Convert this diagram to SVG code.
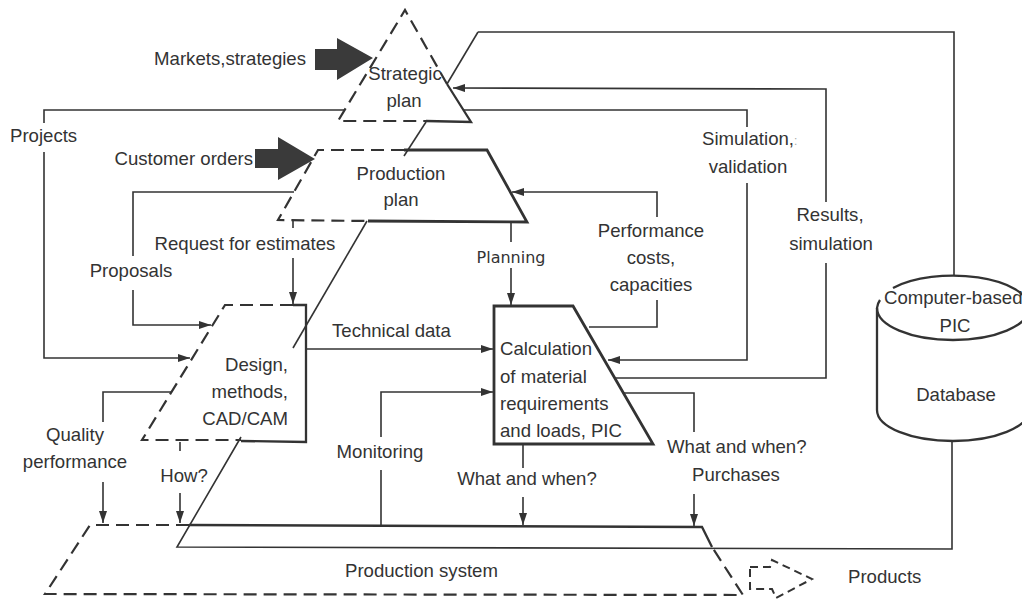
<svg xmlns="http://www.w3.org/2000/svg" width="1022" height="599" viewBox="0 0 1022 599">
  <defs>
    <marker id="arrow" markerWidth="13" markerHeight="8" refX="12" refY="4" orient="auto" markerUnits="userSpaceOnUse">
      <path d="M0,0 L12,4 L0,8 Z" fill="#333"/>
    </marker>
    <style>
      .lbl { font-family: "Liberation Sans", Arial, sans-serif; font-size: 18.6px; fill: #333; }
      .mid { text-anchor: middle; }
      .end { text-anchor: end; }
      .alt { font-family: "DejaVu Sans", Verdana, sans-serif; font-size: 16px; fill: #333; text-anchor: middle; }
      .wire { fill: none; stroke: #333; stroke-width: 1.6; }
      .edge { fill: none; stroke: #333; stroke-width: 2.3; stroke-linejoin: miter; }
      .dash { fill: none; stroke: #333; stroke-width: 2.2; stroke-dasharray: 13 7; }
      .bold { fill: none; stroke: #333; stroke-width: 2.8; }
      .fat { fill: #3a3a3a; }
    </style>
  </defs>
  <rect width="1022" height="599" fill="#fff"/>

  <!-- connectors -->
  <g id="connectors">
    <!-- planning spine running down through the levels, then to the database -->
    <path class="wire" d="M478,32 L954,32 L954,276"/>
    <path class="wire" d="M478,32 L447,84"/>
    <path class="wire" d="M426,122 L404,156"/>
    <path class="wire" d="M367,221 L293,348"/>
    <path class="wire" d="M241,437 L177,547 L952,549 L952,441"/>

    <!-- projects / simulation, validation loop -->
    <path class="wire" d="M747,183 L747,360 L608,360" marker-end="url(#arrow)"/>
    <path class="wire" d="M747,127 L747,110 L464,110"/>
    <path class="wire" d="M345,110 L44,110 L44,123"/>
    <path class="wire" d="M44,152 L44,358 L190,358" marker-end="url(#arrow)"/>

    <!-- results, simulation -->
    <path class="wire" d="M615,378 L826,378 L826,263"/>
    <path class="wire" d="M826,202 L826,89 L453,88" marker-end="url(#arrow)"/>

    <!-- performance, costs, capacities -->
    <path class="wire" d="M589,327 L657,327 L657,300"/>
    <path class="wire" d="M657,217 L657,192 L512,192" marker-end="url(#arrow)"/>

    <!-- planning -->
    <path class="wire" d="M511,222 L511,242"/>
    <path class="wire" d="M511,268 L511,305" marker-end="url(#arrow)"/>

    <!-- request for estimates -->
    <path class="wire" d="M293,221 L293,228"/>
    <path class="wire" d="M293,258 L293,304" marker-end="url(#arrow)"/>

    <!-- proposals -->
    <path class="wire" d="M294,192 L133,192 L133,256"/>
    <path class="wire" d="M133,290 L133,325 L211,325" marker-end="url(#arrow)"/>

    <!-- technical data -->
    <path class="wire" d="M306,349 L493,349" marker-end="url(#arrow)"/>

    <!-- monitoring -->
    <path class="wire" d="M381,525 L381,470"/>
    <path class="wire" d="M381,437 L381,392 L493,392" marker-end="url(#arrow)"/>

    <!-- quality performance -->
    <path class="wire" d="M171,392 L103,392 L103,422"/>
    <path class="wire" d="M103,482 L103,523" marker-end="url(#arrow)"/>

    <!-- how? -->
    <path class="wire" d="M180,442 L180,451"/>
    <path class="wire" d="M180,493 L180,523" marker-end="url(#arrow)"/>

    <!-- what and when? -->
    <path class="wire" d="M523,444 L523,468"/>
    <path class="wire" d="M523,497 L523,525" marker-end="url(#arrow)"/>

    <!-- what and when? purchases -->
    <path class="wire" d="M623,393 L694,393 L694,432"/>
    <path class="wire" d="M694,494 L694,526" marker-end="url(#arrow)"/>

    <!-- connector labels -->
    <text class="lbl" x="10" y="142">Projects</text>
    <text class="lbl" x="702" y="145">Simulation,<tspan fill="#aaa" font-size="12">:</tspan></text>
    <text class="lbl mid" x="748" y="173">validation</text>
    <text class="lbl mid" x="830" y="221">Results,</text>
    <text class="lbl mid" x="831" y="250">simulation</text>
    <text class="lbl mid" x="651" y="237">Performance</text>
    <text class="lbl mid" x="651" y="264">costs,</text>
    <text class="lbl mid" x="651" y="291">capacities</text>
    <text class="alt" x="511" y="263">Planning</text>
    <text class="lbl mid" x="245" y="250">Request for estimates</text>
    <text class="lbl mid" x="131" y="277">Proposals</text>
    <text class="lbl" x="332" y="337">Technical data</text>
    <text class="lbl mid" x="380" y="458">Monitoring</text>
    <text class="lbl mid" x="75" y="441">Quality</text>
    <text class="lbl mid" x="75" y="468">performance</text>
    <text class="lbl mid" x="184" y="482">How?</text>
    <text class="lbl mid" x="527" y="485">What and when?</text>
    <text class="lbl" x="667" y="453">What and when?</text>
    <text class="lbl" x="692" y="481">Purchases</text>
  </g>

  <!-- external input: markets, strategies -->
  <g id="markets-input">
    <path class="fat" d="M315,49 L337,49 L337,38 L373,58 L337,80 L337,70 L315,70 Z"/>
    <text class="lbl end" x="306" y="65">Markets,strategies</text>
  </g>

  <!-- external input: customer orders -->
  <g id="customer-orders">
    <path class="fat" d="M255,149 L278,149 L278,137 L315,159 L278,180 L278,168 L255,168 Z"/>
    <text class="lbl end" x="253" y="165">Customer orders</text>
  </g>

  <!-- strategic plan -->
  <g id="strategic-plan">
    <path class="dash" d="M447,84 L405,10 L338,121 L426,121"/>
    <path class="edge" d="M426,121 L471,122 L447,84"/>
    <text class="lbl mid" x="405" y="80">Strategic</text>
    <text class="lbl mid" x="404" y="107">plan</text>
  </g>

  <!-- production plan -->
  <g id="production-plan">
    <path class="dash" d="M404,150 L318,150 L278,220 L368,221"/>
    <path class="bold" d="M404,150 L487,150 L527,222 L368,221"/>
    <text class="lbl mid" x="401" y="180">Production</text>
    <text class="lbl mid" x="401" y="206">plan</text>
  </g>

  <!-- design, methods, CAD/CAM -->
  <g id="design">
    <path class="dash" d="M293,305 L225,305 L142,440 L241,440"/>
    <path class="edge" d="M293,305 L306,305 L306,442 L241,441"/>
    <text class="lbl end" x="288" y="371">Design,</text>
    <text class="lbl end" x="288" y="398">methods,</text>
    <text class="lbl end" x="288" y="425">CAD/CAM</text>
  </g>

  <!-- calculation of material requirements -->
  <g id="calculation">
    <path class="bold" d="M494,306 L573,306 L653,444 L494,444 Z"/>
    <text class="lbl" x="500" y="355">Calculation</text>
    <text class="lbl" x="500" y="383">of material</text>
    <text class="lbl" x="500" y="410">requirements</text>
    <text class="lbl" x="500" y="437">and loads, PIC</text>
  </g>

  <!-- production system -->
  <g id="production-system">
    <path class="dash" d="M189,525 L90,525 L45,594 L743,595 L712,547"/>
    <path class="edge" d="M189,525 L702,527 L712,547"/>
    <text class="lbl" x="345" y="577">Production system</text>
  </g>

  <!-- products output -->
  <g id="products">
    <path fill="none" stroke="#333" stroke-width="2" stroke-dasharray="8 5" d="M750,567 L770,567 L772,560 L812,579 L776,598 L772,589 L750,589 Z"/>
    <text class="lbl" x="848" y="583">Products</text>
  </g>

  <!-- computer-based PIC database -->
  <g id="database">
    <path class="edge" d="M893,288 A76,32 0 0 1 1029,308"/>
    <path class="edge" d="M877,308 A76,32 0 0 0 1029,308"/>
    <path class="edge" d="M880,300 A76,32 0 0 0 877,308 L877,410 A76,31 0 0 0 1029,410"/>
    <text class="lbl" x="884" y="304" font-size="17.6">Computer-based</text>
    <text class="lbl mid" x="955" y="332">PIC</text>
    <text class="lbl mid" x="956" y="401">Database</text>
  </g>
</svg>
